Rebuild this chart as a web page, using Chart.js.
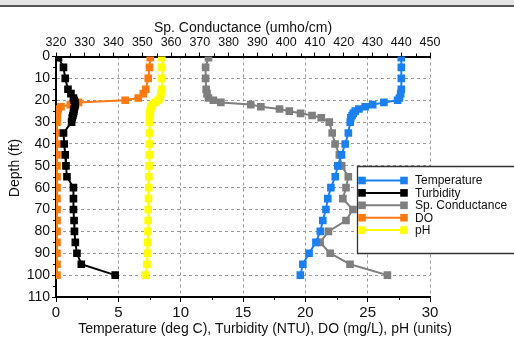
<!DOCTYPE html>
<html>
<head>
<meta charset="utf-8">
<script src="https://cdn.jsdelivr.net/npm/chart.js@4.4.0/dist/chart.umd.min.js"></script>
<style>
  body { margin:0; background:#fff; }
  #wrap { position:relative; width:514px; height:339px; overflow:hidden; }
  #topbar { position:absolute; left:0; top:0; width:514px; height:5px; background:#e4e4e4; border-bottom:2px solid #555; }
  canvas { position:absolute; left:0; top:0; }
</style>
</head>
<body>
<div id="wrap">
  <canvas id="profile" width="514" height="339"></canvas>
  <div id="topbar"></div>
</div>
<script>
// depth of each reading (ft)
const depths = [0.5, 5, 10, 15, 17, 19, 20, 21, 22, 23, 24, 25, 26, 27, 28, 30,
                35, 40, 45, 50, 55, 60, 65, 70, 75, 80, 85, 90, 95, 100];

const temperature = [27.7, 27.7, 27.7, 27.7, 27.65, 27.55, 27.4, 26.3, 25.4, 24.8, 24.3, 24.0, 23.85, 23.75, 23.65, 23.6,
                     23.45, 23.2, 22.9, 22.6, 22.4, 22.05, 21.8, 21.65, 21.4, 21.2, 20.85, 20.3, 19.8, 19.6];
const turbidity = [0.2, 0.6, 0.74, 0.96, 1.2, 1.4, 1.45, 1.52, 1.55, 1.5, 1.45, 1.42, 1.4, 1.35, 1.3, 1.25,
                   0.6, 0.66, 0.74, 0.8, 0.88, 1.4, 1.4, 1.4, 1.45, 1.48, 1.55, 1.68, 2.03, 4.75];
const conductance = [373, 372, 372, 372.2, 372.5, 373, 374.7, 377.3, 387.7, 391.2, 397.7, 401.1, 405, 409, 412.2, 415,
                     416, 417, 418.5, 419.3, 421.6, 420.8, 419.7, 423.2, 420.8, 414.7, 411.8, 415.3, 422.2, 435.2];
const dissolvedO2 = [7.56, 7.5, 7.4, 7.2, 7.0, 6.6, 5.55, 1.8, 1.15, 0.4, 0.18, 0.12, 0.1, 0.1, 0.1, 0.08,
                     0.08, 0.08, 0.08, 0.08, 0.08, 0.08, 0.08, 0.08, 0.08, 0.08, 0.08, 0.08, 0.08, 0.08];
const ph = [8.49, 8.49, 8.49, 8.49, 8.42, 8.36, 8.2, 7.96, 7.72, 7.64, 7.59, 7.56, 7.54, 7.53, 7.52, 7.5,
            7.5, 7.5, 7.48, 7.47, 7.45, 7.44, 7.42, 7.4, 7.39, 7.38, 7.36, 7.34, 7.3, 7.16];

const bottomTitle = 'Temperature (deg C), Turbidity (NTU), DO (mg/L), pH (units)';
const topTitle = 'Sp. Conductance (umho/cm)';
const leftTitle = 'Depth (ft)';

const FONT = '"Liberation Sans", Arial, sans-serif';

function pts(vals) {
  return vals.map((v, i) => ({ x: v, y: depths[i] }));
}

function series(label, vals, color, axis) {
  return {
    label: label,
    data: pts(vals),
    xAxisID: axis,
    yAxisID: 'y',
    showLine: true,
    borderColor: color,
    backgroundColor: color,
    borderWidth: 2,
    pointStyle: 'rect',
    pointRadius: 5.4,
    pointBorderWidth: 0,
    pointHoverRadius: 5.4
  };
}

// minor ticks, titles, legend box
const extras = {
  id: 'extras',
  afterDraw(chart) {
    const ctx = chart.ctx;
    const a = chart.chartArea;
    const sx = chart.scales.x, sx2 = chart.scales.x2, sy = chart.scales.y;
    ctx.save();
    ctx.strokeStyle = '#000';
    ctx.lineWidth = 1;
    ctx.beginPath();
    for (let v = 2.5; v < 30; v += 5) {
      const p = Math.round(sx.getPixelForValue(v)) + 0.5;
      ctx.moveTo(p, a.bottom); ctx.lineTo(p, a.bottom + 3);
    }
    for (let v = 325; v < 450; v += 10) {
      const p = Math.round(sx2.getPixelForValue(v)) + 0.5;
      ctx.moveTo(p, a.top); ctx.lineTo(p, a.top - 3);
    }
    for (let v = 5; v < 110; v += 10) {
      const p = Math.round(sy.getPixelForValue(v)) + 0.5;
      ctx.moveTo(a.left, p); ctx.lineTo(a.left - 3, p);
    }
    ctx.stroke();

    // axis titles
    ctx.fillStyle = '#111';
    ctx.font = '14px ' + FONT;
    ctx.textAlign = 'center';
    ctx.textBaseline = 'middle';
    ctx.fillText(topTitle, (a.left + a.right) / 2, 28);
    ctx.fillText(bottomTitle, 265, 329);
    ctx.save();
    ctx.translate(15, 168);
    ctx.rotate(-Math.PI / 2);
    ctx.fillText(leftTitle, 0, 0);
    ctx.restore();

    // legend
    const bx = 357.5, by = 166.5, bh = 87;
    ctx.fillStyle = '#fff';
    ctx.fillRect(bx, by, 520 - bx, bh);
    ctx.strokeStyle = '#333';
    ctx.lineWidth = 1.3;
    ctx.beginPath();
    ctx.moveTo(520, by); ctx.lineTo(bx, by); ctx.lineTo(bx, by + bh); ctx.lineTo(520, by + bh);
    ctx.stroke();
    ctx.font = '12px ' + FONT;
    ctx.textAlign = 'left';
    chart.data.datasets.forEach((ds, i) => {
      const y = 180.5 + i * 12.4;
      ctx.strokeStyle = ds.borderColor;
      ctx.fillStyle = ds.borderColor;
      ctx.lineWidth = 2;
      ctx.beginPath();
      ctx.moveTo(362, y); ctx.lineTo(404, y);
      ctx.stroke();
      ctx.fillRect(358.2, y - 3.8, 7.6, 7.6);
      ctx.fillRect(400.2, y - 3.8, 7.6, 7.6);
      ctx.fillStyle = '#111';
      ctx.fillText(ds.label, 415, y + 0.5);
    });
    ctx.restore();
  }
};

new Chart(document.getElementById('profile'), {
  type: 'scatter',
  data: {
    datasets: [
      series('Temperature', temperature, '#1a80f0', 'x'),
      series('Turbidity', turbidity, '#000000', 'x'),
      series('Sp. Conductance', conductance, '#7f7f7f', 'x2'),
      series('DO', dissolvedO2, '#ff7a10', 'x'),
      series('pH', ph, '#ffff00', 'x')
    ]
  },
  options: {
    responsive: false,
    animation: false,
    devicePixelRatio: 1,
    layout: { padding: { left: 0, right: 84, top: 0, bottom: 0 } },
    plugins: { legend: { display: false }, tooltip: { enabled: false } },
    scales: {
      x: {
        type: 'linear', position: 'bottom', min: 0, max: 30,
        ticks: { stepSize: 5, color: '#111', font: { family: FONT, size: 15 }, padding: 2, maxRotation: 0 },
        grid: { color: '#9a9a9a', tickColor: '#000', tickLength: 5 },
        border: { color: '#000', width: 2, dash: [3, 3] },
        afterFit(s) { s.height = 42; }
      },
      x2: {
        type: 'linear', position: 'top', min: 320, max: 450,
        ticks: { stepSize: 10, color: '#111', font: { family: FONT, size: 12.5 }, padding: 2, maxRotation: 0 },
        grid: { drawOnChartArea: false, tickColor: '#000', tickLength: 4 },
        border: { color: '#000', width: 2 },
        afterFit(s) { s.height = 56.5; }
      },
      y: {
        type: 'linear', reverse: true, min: 0, max: 110,
        ticks: { stepSize: 10, color: '#111', font: { family: FONT, size: 14 }, padding: 2 },
        grid: { color: '#9a9a9a', tickColor: '#000', tickLength: 4 },
        border: { color: '#000', width: 2, dash: [3, 3] },
        afterFit(s) { s.width = 56; }
      }
    }
  },
  plugins: [extras]
});
</script>
</body>
</html>
